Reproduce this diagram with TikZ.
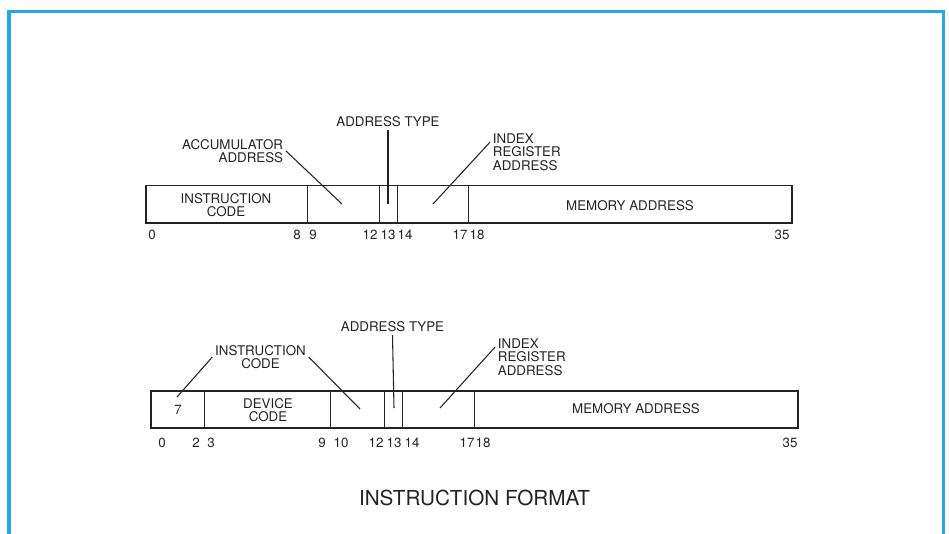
\documentclass[tikz,border=0pt]{standalone}
\usepackage{fontspec}
\setmainfont{TeX Gyre Heros}
\usetikzlibrary{positioning}
\definecolor{frameblue}{RGB}{38,168,228}
\definecolor{inkgray}{RGB}{35,35,35}

\begin{document}
\begin{tikzpicture}[x=0.75pt,y=-0.75pt,
  field/.style={draw=inkgray,line width=1.1pt},
  divider/.style={draw=inkgray,line width=0.8pt},
  pointer/.style={draw=inkgray,line width=0.8pt},
  lbl/.style={inner sep=2pt,font=\fontsize{10}{10.2}\selectfont,text=inkgray,align=center},
  bitnum/.style={inner sep=0pt,font=\fontsize{10}{10}\selectfont,text=inkgray}]
 \useasboundingbox (0,0) rectangle (949,533);

 %Frame
 \draw[frameblue,line width=2.4pt] (9,545) -- (9,11.5) -- (943.5,11.5) -- (943.5,545);

 %Coordinates
 \coordinate (accuTip) at (342,204);
 \coordinate (typeTip) at (388,204);
 \coordinate (indexTip) at (433,204);
 \coordinate (sevenTip) at (177,397);
 \coordinate (opTip) at (360,409);
 \coordinate (typeTipB) at (394,408);
 \coordinate (indexTipB) at (440,408);

 %Registers
 \draw[field] (146,185.5) rectangle (792,223);
 \foreach \x in {307.5,379.2,397.2,468.9}
   \draw[divider] (\x,185.5) -- (\x,223);

 \draw[field] (151,391) rectangle (798,428);
 \foreach \x in {204.9,330.7,384.6,402.6,474.5}
   \draw[divider] (\x,391) -- (\x,428);

 %Field names
 \node (instrCode) [lbl] at (226,205) {INSTRUCTION\\CODE};
 \node (memAddr) [lbl] at (630,206) {MEMORY ADDRESS};

 \node (seven) [lbl] at (178,410) {7};
 \node (devCode) [lbl] at (268,410) {DEVICE\\CODE};
 \node (memAddrB) [lbl] at (636,409) {MEMORY ADDRESS};

 %Names
 \node (accuName) [lbl,align=right,anchor=east] at (286,151) {ACCUMULATOR\\ADDRESS};
 \node (typeName) [lbl] at (388,122) {ADDRESS TYPE};
 \node (indexName) [lbl,align=left,anchor=west] at (490,152) {INDEX\\REGISTER\\ADDRESS};

 \node (instrName) [lbl] at (260.5,357) {INSTRUCTION\\CODE};
 \node (typeNameB) [lbl] at (392.5,327) {ADDRESS TYPE};
 \node (indexNameB) [lbl,align=left,anchor=west] at (495,357) {INDEX\\REGISTER\\ADDRESS};

 %Pointers
 \draw[pointer] (accuName.east) -- (accuTip);
 \draw[pointer] (typeName.south) -- (typeTip);
 \draw[pointer] (indexName.165) -- (indexTip);

 \draw[pointer] (instrName.west) -- (sevenTip);
 \draw[pointer] (instrName.east) -- (opTip);
 \draw[pointer] (typeNameB.south) -- (typeTipB);
 \draw[pointer] (indexNameB.165) -- (indexTipB);

 %Bit numbers
 \foreach \x/\t in {152/0,297/8,313/9,370/12,388/13,405/14,460/17,477/18,782/35}
   \node (up\t) [bitnum] at (\x,235) {\t};

 \foreach \x/\t in {162/0,196/2,211/3,322/9,341/10,376/12,394/13,412/14,467/17,483/18,790/35}
   \node (low\t) [bitnum] at (\x,443) {\t};

 %Title
 \node (title) [inner sep=0pt,font=\fontsize{15.5}{18}\selectfont,text=inkgray] at (474.5,498) {INSTRUCTION FORMAT};

\end{tikzpicture}
\end{document}
